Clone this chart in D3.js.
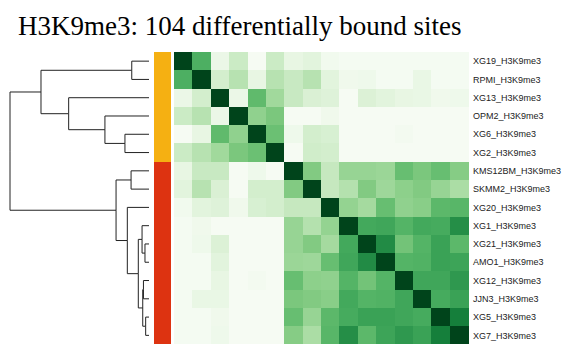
<!DOCTYPE html>
<html>
<head>
<meta charset="utf-8">
<script src="https://cdn.jsdelivr.net/npm/d3@7"></script>
<style>
  html, body { margin: 0; padding: 0; background: #fff; }
  svg { display: block; }
</style>
</head>
<body>
<svg id="chart" width="562" height="344"></svg>
<script>
// Sample labels, in dendrogram leaf order (top to bottom, left to right)
const samples = [
  "XG19_H3K9me3", "RPMI_H3K9me3", "XG13_H3K9me3", "OPM2_H3K9me3",
  "XG6_H3K9me3", "XG2_H3K9me3", "KMS12BM_H3K9me3", "SKMM2_H3K9me3",
  "XG20_H3K9me3", "XG1_H3K9me3", "XG21_H3K9me3", "AMO1_H3K9me3",
  "XG12_H3K9me3", "JJN3_H3K9me3", "XG5_H3K9me3", "XG7_H3K9me3"
];

// Sample group for the side colour bar
const sampleGroup = ["A","A","A","A","A","A","B","B","B","B","B","B","B","B","B","B"];
const groupColors = { A: "#F5B012", B: "#DD3311" };

// Pairwise similarity (0..1) between samples, same order as above
const similarity = [
  [1.00,0.60,0.08,0.23,0.01,0.23,0.10,0.13,0.04,0.02,0.02,0.02,0.02,0.02,0.02,0.02],
  [0.60,1.00,0.20,0.30,0.10,0.30,0.24,0.30,0.13,0.05,0.06,0.02,0.02,0.09,0.02,0.02],
  [0.08,0.20,1.00,0.08,0.55,0.37,0.24,0.17,0.15,0.01,0.16,0.13,0.10,0.09,0.05,0.06],
  [0.23,0.30,0.08,1.00,0.42,0.48,0.01,0.01,0.05,0.01,0.01,0.01,0.01,0.01,0.01,0.01],
  [0.01,0.10,0.55,0.42,1.00,0.52,0.06,0.20,0.18,0.01,0.01,0.01,0.03,0.01,0.01,0.01],
  [0.23,0.30,0.37,0.48,0.52,1.00,0.01,0.21,0.20,0.01,0.01,0.01,0.01,0.01,0.01,0.01],
  [0.10,0.24,0.24,0.01,0.06,0.01,1.00,0.46,0.25,0.40,0.40,0.39,0.53,0.48,0.53,0.45],
  [0.13,0.30,0.17,0.01,0.20,0.20,0.46,1.00,0.25,0.31,0.46,0.38,0.43,0.46,0.40,0.34],
  [0.04,0.13,0.15,0.05,0.18,0.20,0.25,0.25,1.00,0.41,0.36,0.53,0.42,0.44,0.56,0.57],
  [0.02,0.05,0.01,0.01,0.01,0.01,0.40,0.31,0.41,1.00,0.63,0.64,0.58,0.63,0.62,0.74],
  [0.02,0.06,0.16,0.01,0.01,0.01,0.40,0.46,0.36,0.63,1.00,0.75,0.50,0.58,0.66,0.56],
  [0.02,0.02,0.13,0.01,0.01,0.01,0.39,0.38,0.53,0.64,0.75,1.00,0.58,0.59,0.66,0.65],
  [0.02,0.02,0.10,0.01,0.03,0.01,0.53,0.43,0.42,0.58,0.50,0.58,1.00,0.64,0.64,0.70],
  [0.02,0.09,0.09,0.01,0.01,0.01,0.48,0.46,0.44,0.63,0.58,0.59,0.64,1.00,0.62,0.66],
  [0.02,0.02,0.05,0.01,0.01,0.01,0.53,0.40,0.56,0.62,0.66,0.66,0.64,0.62,1.00,0.80],
  [0.02,0.02,0.06,0.01,0.01,0.01,0.45,0.34,0.57,0.74,0.56,0.65,0.70,0.66,0.80,1.00]
];

// Hierarchical clustering: merge heights (distance), leaves index into samples
const L = i => ({ leaf: i, h: 0 });
const clusterTree = {
  h: 1.0, children: [
    { h: 0.777, children: [
      { h: 0.124, children: [L(0), L(1)] },
      { h: 0.578, children: [
        L(2),
        { h: 0.317, children: [L(3), { h: 0.173, children: [L(4), L(5)] }] }
      ] }
    ] },
    { h: 0.237, children: [
      { h: 0.129, children: [L(6), L(7)] },
      { h: 0.156, children: [
        L(8),
        { h: 0.077, children: [
          { h: 0.050, children: [L(9), { h: 0.029, children: [L(10), L(11)] }] },
          { h: 0.045, children: [
            { h: 0.040, children: [L(12), L(13)] },
            { h: 0.024, children: [L(14), L(15)] }
          ] }
        ] }
      ] }
    ] }
  ]
};

const titleText = "H3K9me3: 104 differentially bound sites";

const svg = d3.select("#chart");

// Layout
const heat = { left: 174, right: 468, top: 52, bottom: 344.5 };
const bar = { left: 154, right: 171 };
const dendro = { leaf: 149, root: 10 };

const xBand = d3.scaleBand().domain(d3.range(samples.length)).range([heat.left, heat.right]);
const yBand = d3.scaleBand().domain(d3.range(samples.length)).range([heat.top, heat.bottom]);
const color = d3.scaleSequential(d3.interpolateGreens).domain([0, 1]);
const hScale = d3.scaleLinear().domain([0, 1]).range([dendro.leaf, dendro.root]);

// Title
svg.append("text")
  .attr("x", 18)
  .attr("y", 35)
  .attr("font-family", "'Liberation Serif', 'Times New Roman', serif")
  .attr("font-size", 27)
  .attr("fill", "#000")
  .text(titleText);

// Heatmap cells
const cells = [];
similarity.forEach((row, i) => row.forEach((v, j) => cells.push({ i, j, v })));
svg.append("g")
  .attr("shape-rendering", "crispEdges")
  .selectAll("rect")
  .data(cells)
  .join("rect")
  .attr("x", d => xBand(d.j))
  .attr("y", d => yBand(d.i))
  .attr("width", xBand.bandwidth() + 0.5)
  .attr("height", yBand.bandwidth() + 0.5)
  .attr("fill", d => color(d.v));

// Side colour bar
svg.append("g")
  .attr("shape-rendering", "crispEdges")
  .selectAll("rect")
  .data(sampleGroup)
  .join("rect")
  .attr("x", bar.left)
  .attr("y", (d, i) => yBand(i))
  .attr("width", bar.right - bar.left)
  .attr("height", yBand.bandwidth() + 0.5)
  .attr("fill", d => groupColors[d]);

// Row labels
svg.append("g")
  .selectAll("text")
  .data(samples)
  .join("text")
  .attr("x", 473)
  .attr("y", (d, i) => yBand(i) + yBand.bandwidth() / 2)
  .attr("dy", "0.35em")
  .attr("font-family", "'Liberation Sans', Arial, Helvetica, sans-serif")
  .attr("font-size", 9)
  .attr("fill", "#222")
  .text(d => d);

// Dendrogram
const root = d3.hierarchy(clusterTree);
root.eachAfter(n => {
  n.px = hScale(n.data.h);
  n.py = n.children
    ? d3.mean(n.children, c => c.py)
    : yBand(n.data.leaf) + yBand.bandwidth() / 2;
});
svg.append("g")
  .attr("fill", "none")
  .attr("stroke", "#222")
  .attr("stroke-width", 1)
  .selectAll("path")
  .data(root.links())
  .join("path")
  .attr("d", l => `M${l.source.px},${l.source.py}V${l.target.py}H${l.target.px}`);
</script>
</body>
</html>
